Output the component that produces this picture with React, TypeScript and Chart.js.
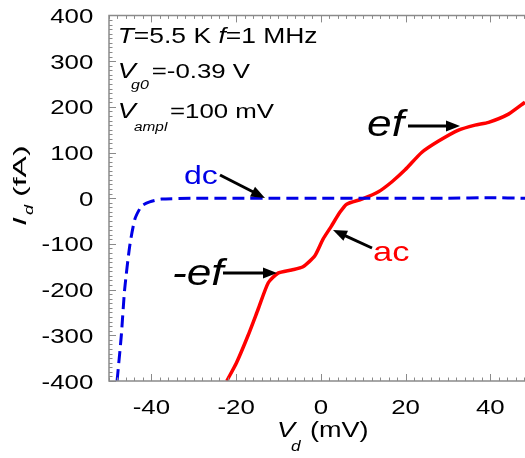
import React, { useEffect, useRef } from "react";
import { Chart, registerables } from "chart.js";

Chart.register(...registerables);

// ---- data ----
const dcVoltage = [-48.1, -47.9, -47.1, -46.3, -45.1, -43.9, -42.3, -40.4, -37.6, -30, -20, -10, 0, 10, 20, 30, 40, 48.2];
const dcCurrent = [-400, -381, -301, -199, -104, -46, -17, -8, -2, 0, 0, 0, 0, 0, 0, 0, 1, 0];

const acVoltage = [-22.2, -19.9, -17.2, -14.8, -12.4, -10.1, -6.9, -4.2, -1.4, 0.5, 2.5, 4.5, 6.1, 9.7, 13.6, 16.8, 19.9, 23.8, 27.8, 32.5, 36.4, 39.6, 44.3, 48.2];
const acCurrent = [-400, -360, -301, -243, -185, -164, -157, -150, -126, -90, -61, -31, -13, -2, 14, 36, 62, 100, 125, 149, 160, 166, 184, 210];

const xTicks = [-40, -20, 0, 20, 40];
const yTicks = [-400, -300, -200, -100, 0, 100, 200, 300, 400];

const X_MIN = -50;
const X_MAX = 48.2;
const Y_MIN = -400;
const Y_MAX = 400;

const S = 1.23; // horizontal stretch of the lettering
const FONT = "'Liberation Sans', Arial, sans-serif";

function txt(
  ctx: CanvasRenderingContext2D,
  text: string,
  x: number,
  y: number,
  size: number,
  color: string,
  italic = false,
  align: CanvasTextAlign = "left",
  stretch = S
) {
  ctx.save();
  ctx.translate(x, y);
  ctx.scale(stretch, 1);
  ctx.font = `${italic ? "italic " : ""}${size}px ${FONT}`;
  ctx.fillStyle = color;
  ctx.textAlign = align;
  ctx.textBaseline = "alphabetic";
  ctx.fillText(text, 0, 0);
  const w = ctx.measureText(text).width * stretch;
  ctx.restore();
  return w;
}

function arrow(ctx: CanvasRenderingContext2D, x1: number, y1: number, x2: number, y2: number) {
  const ang = Math.atan2(y2 - y1, x2 - x1);
  const hl = 14;
  const hw = 5.5;
  const bx = x2 - hl * Math.cos(ang);
  const by = y2 - hl * Math.sin(ang);
  ctx.save();
  ctx.strokeStyle = "#000";
  ctx.fillStyle = "#000";
  ctx.lineWidth = 3;
  ctx.beginPath();
  ctx.moveTo(x1, y1);
  ctx.lineTo(bx + 2 * Math.cos(ang), by + 2 * Math.sin(ang));
  ctx.stroke();
  ctx.beginPath();
  ctx.moveTo(x2, y2);
  ctx.lineTo(bx - hw * Math.sin(ang), by + hw * Math.cos(ang));
  ctx.lineTo(bx + hw * Math.sin(ang), by - hw * Math.cos(ang));
  ctx.closePath();
  ctx.fill();
  ctx.restore();
}

const framePlugin = {
  id: "framePlugin",
  afterDatasetsDraw(chart: any) {
    const ctx: CanvasRenderingContext2D = chart.ctx;
    const { left, right, top, bottom } = chart.chartArea;
    const xs = chart.scales.x;
    const ys = chart.scales.y;
    ctx.save();
    // frame
    ctx.strokeStyle = "#8a8a8a";
    ctx.lineWidth = 1.5;
    ctx.beginPath();
    ctx.moveTo(right + 2, top);
    ctx.lineTo(left, top);
    ctx.lineTo(left, bottom);
    ctx.lineTo(right + 2, bottom);
    ctx.stroke();
    // x ticks (inward, bottom and top)
    ctx.lineWidth = 1;
    ctx.beginPath();
    for (let v = -50; v <= X_MAX + 0.01; v += 2) {
      const major = Math.abs(v % 20) < 0.01;
      const len = major ? 7 : 3.5;
      const px = Math.round(xs.getPixelForValue(v)) + 0.5;
      ctx.moveTo(px, bottom);
      ctx.lineTo(px, bottom - len);
      ctx.moveTo(px, top);
      ctx.lineTo(px, top + len);
    }
    // y ticks (inward, left)
    for (let v = Y_MIN; v <= Y_MAX; v += 10) {
      const major = Math.abs(v % 100) < 0.01;
      const len = major ? 7 : 3.5;
      const py = Math.round(ys.getPixelForValue(v)) + 0.5;
      ctx.moveTo(left, py);
      ctx.lineTo(left + len, py);
    }
    ctx.stroke();
    ctx.restore();

    // tick labels
    for (const v of xTicks) {
      txt(ctx, String(v), xs.getPixelForValue(v), 414, 21, "#000", false, "center");
    }
    for (const v of yTicks) {
      txt(ctx, String(v), 93.3, ys.getPixelForValue(v) + 7.5, 21, "#000", false, "right");
    }

    // axis titles
    txt(ctx, "V", 277, 437, 22, "#000", true);
    txt(ctx, "d", 291, 451, 14, "#000", true);
    txt(ctx, "(mV)", 310, 437, 22, "#000", false);

    // y title rotated (reads bottom to top)
    ctx.save();
    ctx.translate(26, 226);
    ctx.rotate(-Math.PI / 2);
    txt(ctx, "I", 0, 0, 18, "#000", true, "left", 1.75);
    txt(ctx, "d", 11, 7, 13, "#000", true, "left", 1.4);
    txt(ctx, "(fA)", 29, 0, 18, "#000", false, "left", 1.78);
    ctx.restore();

    // parameters
    let x1 = 117.7;
    x1 += txt(ctx, "T", x1, 43.3, 21.5, "#000", true);
    x1 += txt(ctx, "=5.5 K ", x1, 43.3, 21.5, "#000", false);
    x1 += txt(ctx, "f", x1, 43.3, 21.5, "#000", true);
    txt(ctx, "=1 MHz", x1, 43.3, 21.5, "#000", false);

    txt(ctx, "V", 117.7, 78.3, 22, "#000", true);
    txt(ctx, "g0", 131, 89, 13, "#000", true);
    txt(ctx, "=-0.39 V", 151.7, 78.3, 21, "#000", false);

    txt(ctx, "V", 117.7, 118.3, 22, "#000", true);
    txt(ctx, "ampl", 134, 131, 12.5, "#000", true);
    txt(ctx, "=100 mV", 170, 118.3, 21, "#000", false);

    // curve labels
    txt(ctx, "dc", 184, 184, 26, "#0000e6", false);
    txt(ctx, "ac", 373, 261, 28, "#ff0000", false);
    txt(ctx, "-ef", 172, 285, 36, "#000", true);
    txt(ctx, "ef", 367, 136, 36, "#000", true);

    arrow(ctx, 220, 175, 265, 198);
    arrow(ctx, 223, 273, 277, 273);
    arrow(ctx, 408, 126, 460, 126);
    arrow(ctx, 372, 248, 333, 230);
  },
};

export default function App() {
  const ref = useRef<HTMLCanvasElement>(null);
  useEffect(() => {
    if (!ref.current) return;
    const chart = new Chart(ref.current, {
      type: "line",
      data: {
        datasets: [
          {
            label: "dc",
            data: dcVoltage.map((x, i) => ({ x, y: dcCurrent[i] })),
            borderColor: "#0000e6",
            borderWidth: 3,
            borderDash: [12, 6],
            pointRadius: 0,
            tension: 0.2,
            fill: false,
          },
          {
            label: "ac",
            data: acVoltage.map((x, i) => ({ x, y: acCurrent[i] })),
            borderColor: "#ff0000",
            borderWidth: 3.5,
            pointRadius: 0,
            tension: 0.2,
            fill: false,
          },
        ],
      },
      options: {
        animation: false,
        responsive: false,
        devicePixelRatio: 1,
        layout: { padding: { left: 109, top: 15.4, right: 0, bottom: 77 } },
        plugins: { legend: { display: false }, tooltip: { enabled: false } },
        scales: {
          x: {
            type: "linear",
            display: false,
            min: X_MIN,
            max: X_MAX,
            afterBuildTicks: (s: any) => {
              s.ticks = xTicks.map((v) => ({ value: v }));
            },
          },
          y: {
            type: "linear",
            display: false,
            min: Y_MIN,
            max: Y_MAX,
            afterBuildTicks: (s: any) => {
              s.ticks = yTicks.map((v) => ({ value: v }));
            },
          },
        },
      },
      plugins: [framePlugin],
    });
    return () => chart.destroy();
  }, []);
  return (
    <div style={{ position: "absolute", left: 0, top: 0, width: 525, height: 458, background: "#fff" }}>
      <canvas ref={ref} width={525} height={458} />
    </div>
  );
}
